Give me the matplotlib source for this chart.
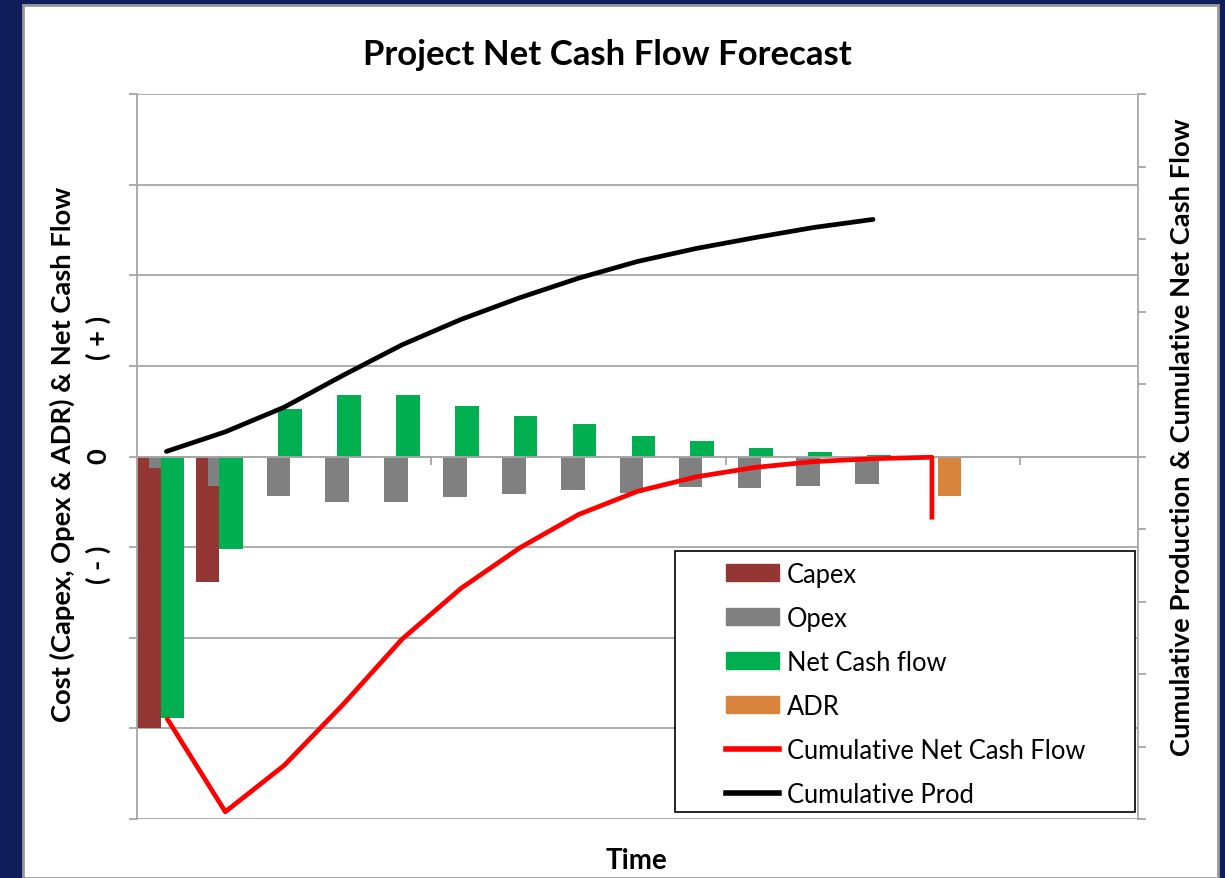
import matplotlib
matplotlib.use("Agg")
import matplotlib.pyplot as plt
from matplotlib.patches import Rectangle, Patch
from matplotlib.lines import Line2D

# bar series (left axis units), one value per period
capex = [-3.0, -1.39, 0, 0, 0, 0, 0, 0, 0, 0, 0, 0, 0, 0, 0, 0, 0]
opex = [-0.13, -0.33, -0.44, -0.50, -0.50, -0.45, -0.41, -0.37, -0.40, -0.34, -0.35, -0.33, -0.30, 0, 0, 0, 0]
net_cash = [-2.89, -1.02, 0.52, 0.68, 0.68, 0.56, 0.45, 0.36, 0.23, 0.17, 0.09, 0.045, 0.015, 0, 0, 0, 0]
adr = [0, 0, 0, 0, 0, 0, 0, 0, 0, 0, 0, 0, 0, -0.44, 0, 0, 0]

# line series (right axis units)
cum_prod = [0.07, 0.34, 0.68, 1.12, 1.54, 1.89, 2.19, 2.46, 2.69, 2.87, 3.02, 3.16, 3.27]
cum_ncf_period = [0, 1, 2, 3, 4, 5, 6, 7, 8, 9, 10, 11, 12, 13, 13]
cum_ncf = [-3.60, -4.90, -4.26, -3.42, -2.52, -1.82, -1.26, -0.80, -0.48, -0.28, -0.15, -0.07, -0.03, -0.01, -0.87]

c_capex = "#943634"
c_opex = "#808080"
c_net = "#00b050"
c_adr = "#d9843c"
grid_c = "#a6a6a6"

plt.rcParams['font.family'] = ['Lato', 'DejaVu Sans']

W, H = 1225, 879
fig = plt.figure(figsize=(W / 100, H / 100), dpi=100, facecolor="#101d5b")
fig.patches.append(Rectangle((23 / W, 0), (1218 - 23) / W, 1 - 6 / H, transform=fig.transFigure,
                             facecolor="white", edgecolor="#9a9a9a", linewidth=2, zorder=-1))

ax = fig.add_axes([137 / W, 1 - 820 / H, (1138 - 137) / W, (820 - 95) / H])
ax.set_facecolor("none")
n = len(capex)
x = list(range(n))
w = 0.4
ax.bar([i + 0.2 for i in x], capex, width=w, color=c_capex, zorder=2)
ax.bar([i + 0.4 for i in x], opex, width=w, color=c_opex, zorder=2)
ax.bar([i + 0.6 for i in x], net_cash, width=w, color=c_net, zorder=2)
ax.bar([i + 0.8 for i in x], adr, width=w, color=c_adr, zorder=2)

ax.set_xlim(0, n)
ax.set_ylim(-4, 4)
ax.set_yticks(range(-4, 5))
ax.set_yticklabels([])
ax.yaxis.grid(True, color=grid_c, linewidth=1.3, zorder=0)
ax.tick_params(axis='y', direction='out', length=6, color=grid_c, width=1.3)
ax.spines['bottom'].set_position(('data', 0))
ax.spines['bottom'].set_color(grid_c)
ax.spines['bottom'].set_linewidth(1.3)
ax.set_xticks([5, 10, 15])
ax.set_xticklabels([])
ax.tick_params(axis='x', direction='out', length=6, color=grid_c, width=1.3)
ax.spines['top'].set_visible(False)
ax.spines['right'].set_visible(False)
ax.spines['left'].set_color(grid_c)
ax.spines['left'].set_linewidth(1.3)

ax2 = ax.twinx()
ax2.set_ylim(-5, 5)
ax2.set_yticks(range(-5, 6))
ax2.set_yticklabels([])
ax2.tick_params(axis='y', direction='out', length=6, color=grid_c, width=1.3)
for s in ['top', 'left', 'bottom']:
    ax2.spines[s].set_visible(False)
ax2.spines['right'].set_color(grid_c)
ax2.spines['right'].set_linewidth(1.3)

ax2.plot([i + 0.5 for i in cum_ncf_period], cum_ncf, color="red", linewidth=3.4, solid_capstyle='butt', solid_joinstyle='round')
ax2.plot([i + 0.5 for i in range(len(cum_prod))], cum_prod, color="black", linewidth=3.4, solid_capstyle='round')

# legend box
fig.patches.append(Rectangle((675 / W, 1 - 813 / H), (1135 - 675) / W, (813 - 552) / H,
                             transform=fig.transFigure, facecolor="white", edgecolor="black",
                             linewidth=1.2, zorder=5))
handles = [Patch(color=c_capex), Patch(color=c_opex), Patch(color=c_net), Patch(color=c_adr),
           Line2D([], [], color="red", linewidth=4), Line2D([], [], color="black", linewidth=4)]
labels = ["Capex", "Opex", "Net Cash flow", "ADR", "Cumulative Net Cash Flow", "Cumulative Prod"]
leg = fig.legend(handles, labels, loc='upper left', bbox_to_anchor=(704 / W, 1 - 541 / H),
                 frameon=False, fontsize=18.4, handlelength=2.1, handleheight=0.62,
                 handletextpad=0.28, labelspacing=0.743, borderpad=0.35)
leg.set_zorder(6)

fig.text(607 / W, 1 - 55 / H, "Project Net Cash Flow Forecast", ha='center', va='center',
         fontsize=25, fontweight='bold')
fig.text(636 / W, 1 - 861 / H, "Time", ha='center', va='center', fontsize=20, fontweight='bold')
fig.text(62 / W, 1 - 454 / H, "Cost (Capex, Opex & ADR) & Net Cash Flow", rotation=90,
         ha='center', va='center', fontsize=19.7, fontweight='bold')
fig.text(98 / W, 1 - 565 / H, "( - )", rotation=90, ha='center', va='center', fontsize=19.7, fontweight='bold')
fig.text(98 / W, 1 - 456 / H, "0", rotation=90, ha='center', va='center', fontsize=19.7, fontweight='bold')
fig.text(98 / W, 1 - 338 / H, "( + )", rotation=90, ha='center', va='center', fontsize=19.7, fontweight='bold')
fig.text(1182 / W, 1 - 437 / H, "Cumulative Production & Cumulative Net Cash Flow", rotation=90,
         ha='center', va='center', fontsize=19.7, fontweight='bold')

fig.savefig("out.png", dpi=100, facecolor=fig.get_facecolor())
